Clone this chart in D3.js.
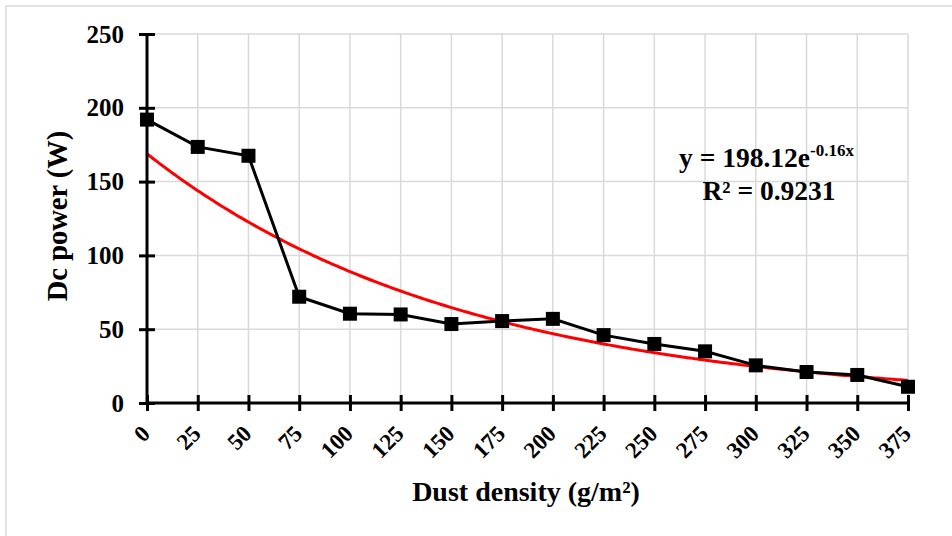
<!DOCTYPE html>
<html>
<head>
<meta charset="utf-8">
<script src="https://cdn.jsdelivr.net/npm/d3@7"></script>
<style>
  html, body { margin: 0; padding: 0; background: #fff; }
  svg { display: block; }
  text { font-family: "Liberation Serif", "Times New Roman", serif; font-weight: bold; fill: #000; }
</style>
</head>
<body>
<svg id="chart" width="952" height="536"></svg>
<script>
// ---- data ----
const dustDensity = [0, 25, 50, 75, 100, 125, 150, 175, 200, 225, 250, 275, 300, 325, 350, 375];
const dcPower = [192, 173.5, 167.5, 72, 60.5, 60, 53.5, 55.5, 57, 46, 40, 35, 25.5, 21, 19, 11];
const yTicks = [0, 50, 100, 150, 200, 250];
const xTickLabels = ["0","25","50","75","100","125","150","175","200","225","250","275","300","325","350","375"];
// Excel exponential trendline (x = point index 1..16): y = 198.12 e^(-0.16 x)
const trendA = 198.12;
const trendB = -0.16;
const eqText1 = "y = 198.12e";
const eqSup = "-0.16x";
const eqText2 = "R² = 0.9231";
const xTitle = "Dust density (g/m²)";
const yTitle = "Dc power (W)";

const svg = d3.select("#chart");

// outer chart border (only left/top visible in reference)
svg.append("rect").attr("x", 6).attr("y", 6).attr("width", 960).attr("height", 560)
  .attr("fill", "#fff").attr("stroke", "#d9d9d9").attr("stroke-width", 1.5);

const x = d3.scaleLinear().domain([0, 375]).range([147, 908]);
const y = d3.scaleLinear().domain([0, 250]).range([403, 34]);

// gridlines
const grid = svg.append("g");
grid.selectAll("line.v").data(dustDensity.slice(1)).join("line")
  .attr("x1", d => x(d)).attr("x2", d => x(d)).attr("y1", y(0)).attr("y2", y(250))
  .attr("stroke", "#d9d9d9").attr("stroke-width", 1.5);
grid.selectAll("line.h").data(yTicks.slice(1)).join("line")
  .attr("x1", x(0)).attr("x2", x(375)).attr("y1", d => y(d)).attr("y2", d => y(d))
  .attr("stroke", "#d9d9d9").attr("stroke-width", 1.5);

// trendline
const idx = d3.range(1, 16.0001, 0.05);
const trend = idx.map(t => ({ xv: (t - 1) * 25, yv: trendA * Math.exp(trendB * t) }));
svg.append("path").datum(trend)
  .attr("d", d3.line().x(d => x(d.xv)).y(d => y(d.yv)))
  .attr("fill", "none").attr("stroke", "#ff0000").attr("stroke-width", 3);

// axes
const yAxis = d3.axisLeft(y).tickValues(yTicks).tickSize(8).tickPadding(15);
const gy = svg.append("g").attr("transform", `translate(${x(0)},0)`).call(yAxis);
gy.select(".domain").attr("stroke", "#000").attr("stroke-width", 3).attr("d", `M0,${y(0)+1.5}V${y(250)}`);
gy.selectAll(".tick line").attr("stroke", "#000").attr("stroke-width", 3).attr("x1", 8).attr("x2", -8);
gy.selectAll(".tick text").attr("font-size", 25).attr("font-family", "Liberation Serif").attr("font-weight", "bold").attr("fill", "#000");

const xAxis = d3.axisBottom(x).tickValues(dustDensity).tickFormat((d, i) => xTickLabels[i]).tickSize(8);
const gx = svg.append("g").attr("transform", `translate(0,${y(0)})`).call(xAxis);
gx.select(".domain").attr("stroke", "#000").attr("stroke-width", 3).attr("d", `M${x(0)-1.5},0H${x(375)+1.5}`);
gx.selectAll(".tick line").attr("stroke", "#000").attr("stroke-width", 3).attr("y1", -8).attr("y2", 8);
gx.selectAll(".tick text")
  .attr("font-size", 23).attr("font-family", "Liberation Serif").attr("font-weight", "bold").attr("fill", "#000")
  .attr("text-anchor", "end").attr("dy", null).attr("y", null)
  .attr("transform", "translate(4,32) rotate(-45)");

// data line + markers
const pts = dustDensity.map((d, i) => ({ xv: d, yv: dcPower[i] }));
svg.append("path").datum(pts)
  .attr("d", d3.line().x(d => x(d.xv)).y(d => y(d.yv)))
  .attr("fill", "none").attr("stroke", "#000").attr("stroke-width", 3);
svg.selectAll("rect.m").data(pts).join("rect")
  .attr("x", d => x(d.xv) - 7).attr("y", d => y(d.yv) - 7)
  .attr("width", 14).attr("height", 14).attr("fill", "#000");

// axis titles
svg.append("text").attr("x", 526).attr("y", 501)
  .attr("text-anchor", "middle").attr("font-size", 28).text(xTitle);
svg.append("text").attr("transform", `translate(67,216) rotate(-90)`)
  .attr("text-anchor", "middle").attr("font-size", 28.5).text(yTitle);

// trendline equation
const eq = svg.append("text").attr("x", 679).attr("y", 167).attr("font-size", 27.5);
eq.append("tspan").text(eqText1);
eq.append("tspan").attr("font-size", 17).attr("dy", -11).text(eqSup);
svg.append("text").attr("x", 769).attr("y", 200).attr("text-anchor", "middle").attr("font-size", 27.5).text(eqText2);
</script>
</body>
</html>
